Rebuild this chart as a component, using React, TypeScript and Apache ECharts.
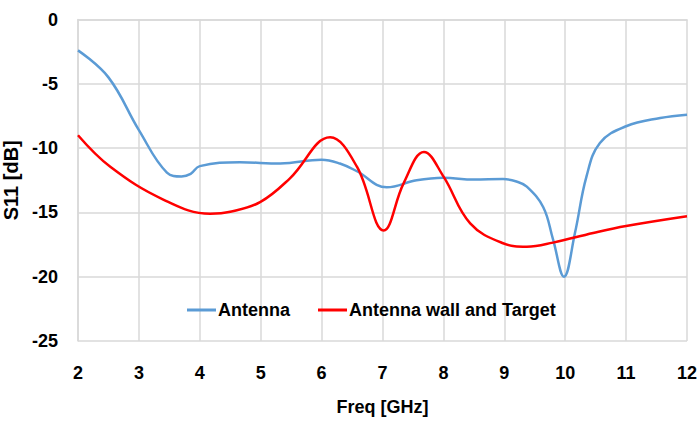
import React, { useEffect, useRef } from "react";
import * as echarts from "echarts";

const antennaFreq = [2, 2.5, 3.0, 3.46, 3.7, 3.85, 4.0, 4.66, 5.32, 6.0, 6.3, 6.58, 7.07, 7.56, 8.0, 8.5, 8.98, 9.2, 9.37, 9.64, 9.8, 9.98, 10.16, 10.35, 10.57, 11.0, 11.56, 12];
const antennaS11 = [-2.4, -4.5, -8.6, -11.9, -12.2, -12.0, -11.4, -11.1, -11.2, -10.9, -11.2, -11.8, -13.05, -12.5, -12.3, -12.45, -12.4, -12.6, -13.0, -14.6, -17.1, -20.0, -16.6, -12.2, -9.6, -8.3, -7.66, -7.4];

const targetFreq = [2, 2.53, 3.4, 4.17, 4.5, 4.99, 5.48, 6.14, 6.58, 7.02, 7.35, 7.68, 8.0, 8.44, 8.98, 9.37, 9.8, 10.46, 11.0, 12];
const targetS11 = [-9.0, -11.45, -14.0, -15.1, -14.95, -14.2, -12.35, -9.16, -11.45, -16.4, -12.7, -10.3, -12.2, -15.85, -17.4, -17.67, -17.35, -16.6, -16.06, -15.3];

const seriesNames = ["Antenna", "Antenna wall and Target"];
const seriesColors = ["#5B9BD5", "#FF0000"];

const FONT = "'Liberation Sans', Arial, sans-serif";

export default function App() {
  const ref = useRef<HTMLDivElement>(null);
  useEffect(() => {
    if (!ref.current) return;
    const chart = echarts.init(ref.current, undefined, { renderer: "svg" });
    const pair = (xs: number[], ys: number[]) => xs.map((x, i) => [x, ys[i]]);
    chart.setOption({
      animation: false,
      backgroundColor: "#ffffff",
      textStyle: { fontFamily: FONT },
      grid: { left: 78, right: 11, top: 19.5, bottom: 84, containLabel: false, outerBoundsMode: "none" },
      legend: {
        left: 182,
        top: 296,
        icon: "rect",
        itemWidth: 29,
        itemHeight: 3,
        itemGap: 28,
        textStyle: { fontFamily: FONT, fontWeight: "bold", fontSize: 18, color: "#000", padding: [0, 0, 0, -3] },
        data: seriesNames,
      },
      xAxis: {
        type: "value",
        min: 2,
        max: 12,
        interval: 1,
        name: "Freq [GHz]",
        nameLocation: "middle",
        nameGap: 57,
        nameTextStyle: { fontFamily: FONT, fontWeight: "bold", fontSize: 18, color: "#000" },
        axisLine: { show: true, lineStyle: { color: "#d9d9d9", width: 1.5 } },
        axisTick: { show: false },
        axisLabel: { margin: 23, fontFamily: FONT, fontWeight: "bold", fontSize: 18, color: "#000" },
        splitLine: { show: true, lineStyle: { color: "#d9d9d9", width: 1.5 } },
      },
      yAxis: {
        type: "value",
        min: -25,
        max: 0,
        interval: 5,
        name: "S11 [dB]",
        nameLocation: "middle",
        nameGap: 52,
        nameTextStyle: { fontFamily: FONT, fontWeight: "bold", fontSize: 20, color: "#000" },
        axisLine: { show: true, lineStyle: { color: "#d9d9d9", width: 1.5 } },
        axisTick: { show: false },
        axisLabel: { margin: 20, fontFamily: FONT, fontWeight: "bold", fontSize: 18, color: "#000" },
        splitLine: { show: true, lineStyle: { color: "#d9d9d9", width: 1.5 } },
      },
      series: [
        {
          name: seriesNames[0],
          type: "line",
          data: pair(antennaFreq, antennaS11),
          smooth: 0.4,
          symbol: "none",
          lineStyle: { color: seriesColors[0], width: 2.5 },
          itemStyle: { color: seriesColors[0] },
        },
        {
          name: seriesNames[1],
          type: "line",
          data: pair(targetFreq, targetS11),
          smooth: 0.4,
          symbol: "none",
          lineStyle: { color: seriesColors[1], width: 2.5 },
          itemStyle: { color: seriesColors[1] },
        },
      ],
    });
    return () => chart.dispose();
  }, []);
  return <div ref={ref} style={{ width: 698, height: 425, position: "fixed", left: 0, top: 0 }} />;
}
